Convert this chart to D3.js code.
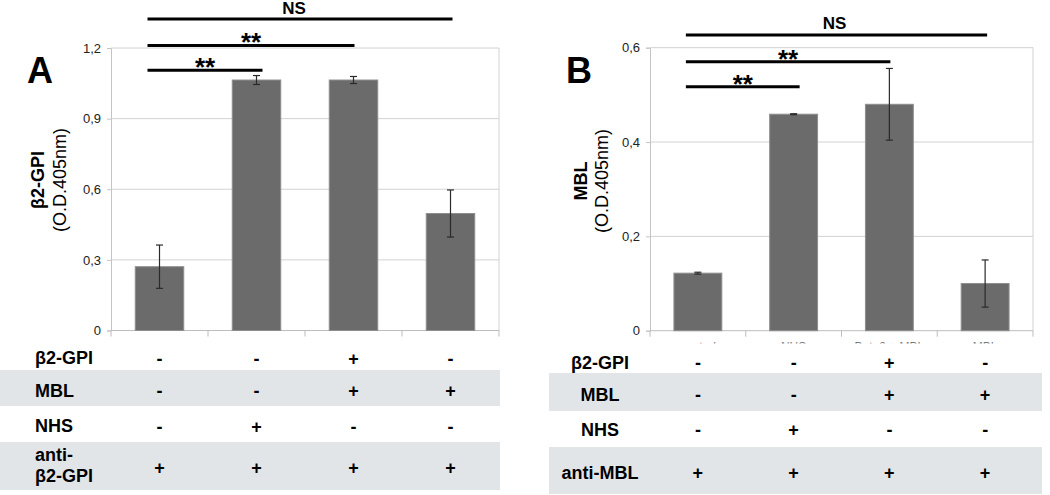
<!DOCTYPE html>
<html><head><meta charset="utf-8">
<script src="https://cdn.jsdelivr.net/npm/d3@7"></script>
<style>
html,body{margin:0;padding:0;background:#fff;}
svg{display:block;font-family:"Liberation Sans",Arial,Helvetica,sans-serif;}
</style></head>
<body>
<svg id="chart" width="1050" height="495"></svg>
<script>
// ---------- data ----------
const categories = ["control", "NHS", "Beta2 + MBL", "MBL"];

const valuesA = [0.271, 1.064, 1.064, 0.497];
const errorsA = [0.092, 0.019, 0.015, 0.100];
const ticksA = [0, 0.3, 0.6, 0.9, 1.2];
const tickLabelsA = ["0", "0,3", "0,6", "0,9", "1,2"];

const valuesB = [0.122, 0.459, 0.480, 0.100];
const errorsB = [0.002, 0.001, 0.076, 0.050];
const ticksB = [0, 0.2, 0.4, 0.6];
const tickLabelsB = ["0", "0,2", "0,4", "0,6"];

const rowLabelsA = [["β2-GPI"], ["MBL"], ["NHS"], ["anti-", "β2-GPI"]];
const rowLabelsB = [["β2-GPI"], ["MBL"], ["NHS"], ["anti-MBL"]];
const tableRows = [
  ["-", "-", "+", "-"],
  ["-", "-", "+", "+"],
  ["-", "+", "-", "-"],
  ["+", "+", "+", "+"]
];

// significance brackets: from group, to group, level (in y units), label
const sigFromA = [0, 0, 0], sigToA = [3, 2, 1], sigLevelA = [1.323, 1.211, 1.105], sigLabelA = ["NS", "**", "**"];
const sigFromB = [0, 0, 0], sigToB = [3, 2, 1], sigLevelB = [0.627, 0.570, 0.517], sigLabelB = ["NS", "**", "**"];

// ---------- drawing ----------
const svg = d3.select("#chart");
const GRID = "#d2d2d2";

function drawPanel(p) {
  const g = svg.append("g");
  const x = d3.scaleBand().domain(categories).range([p.x0, p.x1]).paddingInner(0.5).paddingOuter(0.25);
  const y = d3.scaleLinear().domain(p.domain).range([p.y0, p.y1]);

  // table background (drawn first)
  p.rowsY.forEach((r, i) => {
    g.append("rect").attr("x", p.tabX0).attr("width", p.tabX1 - p.tabX0)
      .attr("y", r[0]).attr("height", r[1] - r[0])
      .attr("fill", i % 2 === 1 ? "#e2e5e8" : "#fff");
  });

  // hidden category labels (B only; mostly covered by the table)
  if (p.showCats) {
    g.append("g").selectAll("text").data(categories).join("text")
      .attr("x", d => x(d) + x.bandwidth() / 2).attr("y", 351)
      .attr("text-anchor", "middle").attr("font-size", 12).attr("fill", "#777")
      .text(d => d);
    g.append("rect").attr("x", p.tabX0).attr("width", p.tabX1 - p.tabX0)
      .attr("y", 343.5).attr("height", p.rowsY[0][1] - 343.5).attr("fill", "#fff");
  }

  // gridlines
  g.append("g").selectAll("line").data(p.ticks.slice(1)).join("line")
    .attr("x1", p.x0).attr("x2", p.x1).attr("y1", d => y(d)).attr("y2", d => y(d))
    .attr("stroke", GRID).attr("stroke-width", 1);
  // right border
  g.append("line").attr("x1", p.x1).attr("x2", p.x1).attr("y1", y(p.domain[1])).attr("y2", y(0))
    .attr("stroke", GRID);

  // y axis
  const yAxis = d3.axisLeft(y).tickValues(p.ticks).tickSize(4).tickPadding(6)
    .tickFormat((d, i) => p.tickLabels[i]);
  const ya = g.append("g").attr("transform", `translate(${p.x0},0)`).call(yAxis);
  ya.select(".domain").attr("stroke", "#c4c4c4");
  ya.selectAll(".tick line").attr("stroke", "#c4c4c4");
  ya.selectAll(".tick text").attr("font-size", 13).attr("fill", "#222")
    .attr("font-family", "'Liberation Sans',Arial,sans-serif");

  // x axis
  const xa = g.append("g").attr("transform", `translate(0,${y(0)})`);
  xa.append("line").attr("x1", p.x0).attr("x2", p.x1).attr("stroke", "#bdbdbd");
  const edges = [p.x0].concat(categories.slice(1).map(c => x(c) - (x.step() - x.bandwidth()) / 2), [p.x1]);
  xa.selectAll("line.tk").data(edges).join("line").attr("class", "tk")
    .attr("x1", d => d).attr("x2", d => d).attr("y1", 0).attr("y2", 6).attr("stroke", "#bdbdbd");

  // bars
  g.append("g").selectAll("rect").data(p.values).join("rect")
    .attr("x", (d, i) => x(categories[i])).attr("width", x.bandwidth())
    .attr("y", d => y(d)).attr("height", d => y(0) - y(d))
    .attr("fill", "#6b6b6b").attr("stroke", "#8e8e8e").attr("stroke-width", 1);

  // error bars
  const eb = g.append("g").attr("stroke", "#2a2a2a").attr("stroke-width", 1.2);
  p.values.forEach((v, i) => {
    const cx = x(categories[i]) + x.bandwidth() / 2;
    const e = p.errors[i];
    eb.append("line").attr("x1", cx).attr("x2", cx).attr("y1", y(v + e)).attr("y2", y(v - e));
    eb.append("line").attr("x1", cx - 3.5).attr("x2", cx + 3.5).attr("y1", y(v + e)).attr("y2", y(v + e));
    eb.append("line").attr("x1", cx - 3.5).attr("x2", cx + 3.5).attr("y1", y(v - e)).attr("y2", y(v - e));
  });

  // significance brackets
  const endOff = [2, 1, 6];
  p.sigFrom.forEach((f, i) => {
    const cx = c => x(categories[c]) + x.bandwidth() / 2;
    const xs = cx(f) - 12, xe = cx(p.sigTo[i]) + endOff[i];
    const ly = y(p.sigLevel[i]);
    g.append("line").attr("x1", xs).attr("x2", xe).attr("y1", ly).attr("y2", ly)
      .attr("stroke", "#000").attr("stroke-width", 3);
    const isNS = p.sigLabel[i] === "NS";
    g.append("text").attr("x", (xs + xe) / 2 + (isNS ? p.nsShift : 0))
      .attr("y", isNS ? ly - 5.5 : ly + 6)
      .attr("text-anchor", "middle").attr("font-weight", "bold")
      .attr("font-size", isNS ? 17 : 26).text(p.sigLabel[i]);
  });

  // panel letter
  g.append("text").attr("x", p.letterX).attr("y", 83).attr("font-size", 36).attr("font-weight", "bold")
    .text(p.letter);

  // y title
  g.append("text").attr("transform", `translate(${p.titleX1},${p.titleY}) rotate(-90)`)
    .attr("text-anchor", "middle").attr("font-size", 18).attr("font-weight", "bold").text(p.title);
  g.append("text").attr("transform", `translate(${p.titleX2},${p.titleY}) rotate(-90)`)
    .attr("text-anchor", "middle").attr("font-size", 18).text("(O.D.405nm)");

  // table text
  p.rowLabels.forEach((lines, r) => {
    const cy = p.rowText[r];
    lines.forEach((t, k) => {
      g.append("text").attr("x", p.labelX).attr("y", cy + (lines.length > 1 ? (k === 0 ? -7 : 14) : 6))
        .attr("text-anchor", p.labelAnchor).attr("font-size", 18).attr("font-weight", "bold").text(t);
    });
    tableRows[r].forEach((s, c) => {
      g.append("text").attr("x", x(categories[c]) + x.bandwidth() / 2).attr("y", p.rowSym[r] + 6)
        .attr("text-anchor", "middle").attr("font-size", 18).attr("font-weight", "bold").text(s);
    });
  });
}

drawPanel({
  x0: 111, x1: 499, y0: 330.5, y1: 48, domain: [0, 1.2],
  values: valuesA, errors: errorsA, ticks: ticksA, tickLabels: tickLabelsA,
  sigFrom: sigFromA, sigTo: sigToA, sigLevel: sigLevelA, sigLabel: sigLabelA, nsShift: -6,
  letter: "A", letterX: 27, title: "β2-GPI", titleX1: 44, titleX2: 66, titleY: 180,
  tabX0: 0, tabX1: 500, rowsY: [[347, 370], [370, 406], [406, 442], [442, 490]],
  rowText: [358, 391, 426, 468], rowSym: [359, 391, 427, 468],
  rowLabels: rowLabelsA, labelX: 35, labelAnchor: "start", showCats: false
});

drawPanel({
  x0: 650, x1: 1033, y0: 330.7, y1: 47.7, domain: [0, 0.6],
  values: valuesB, errors: errorsB, ticks: ticksB, tickLabels: tickLabelsB,
  sigFrom: sigFromB, sigTo: sigToB, sigLevel: sigLevelB, sigLabel: sigLabelB, nsShift: -2,
  letter: "B", letterX: 566, title: "MBL", titleX1: 587, titleX2: 608, titleY: 181,
  tabX0: 549, tabX1: 1042, rowsY: [[351, 373], [373, 411], [411, 447], [447, 494]],
  rowText: [363, 395, 430, 473], rowSym: [363, 395, 430, 473],
  rowLabels: rowLabelsB, labelX: 600, labelAnchor: "middle", showCats: true
});
</script>
</body></html>
